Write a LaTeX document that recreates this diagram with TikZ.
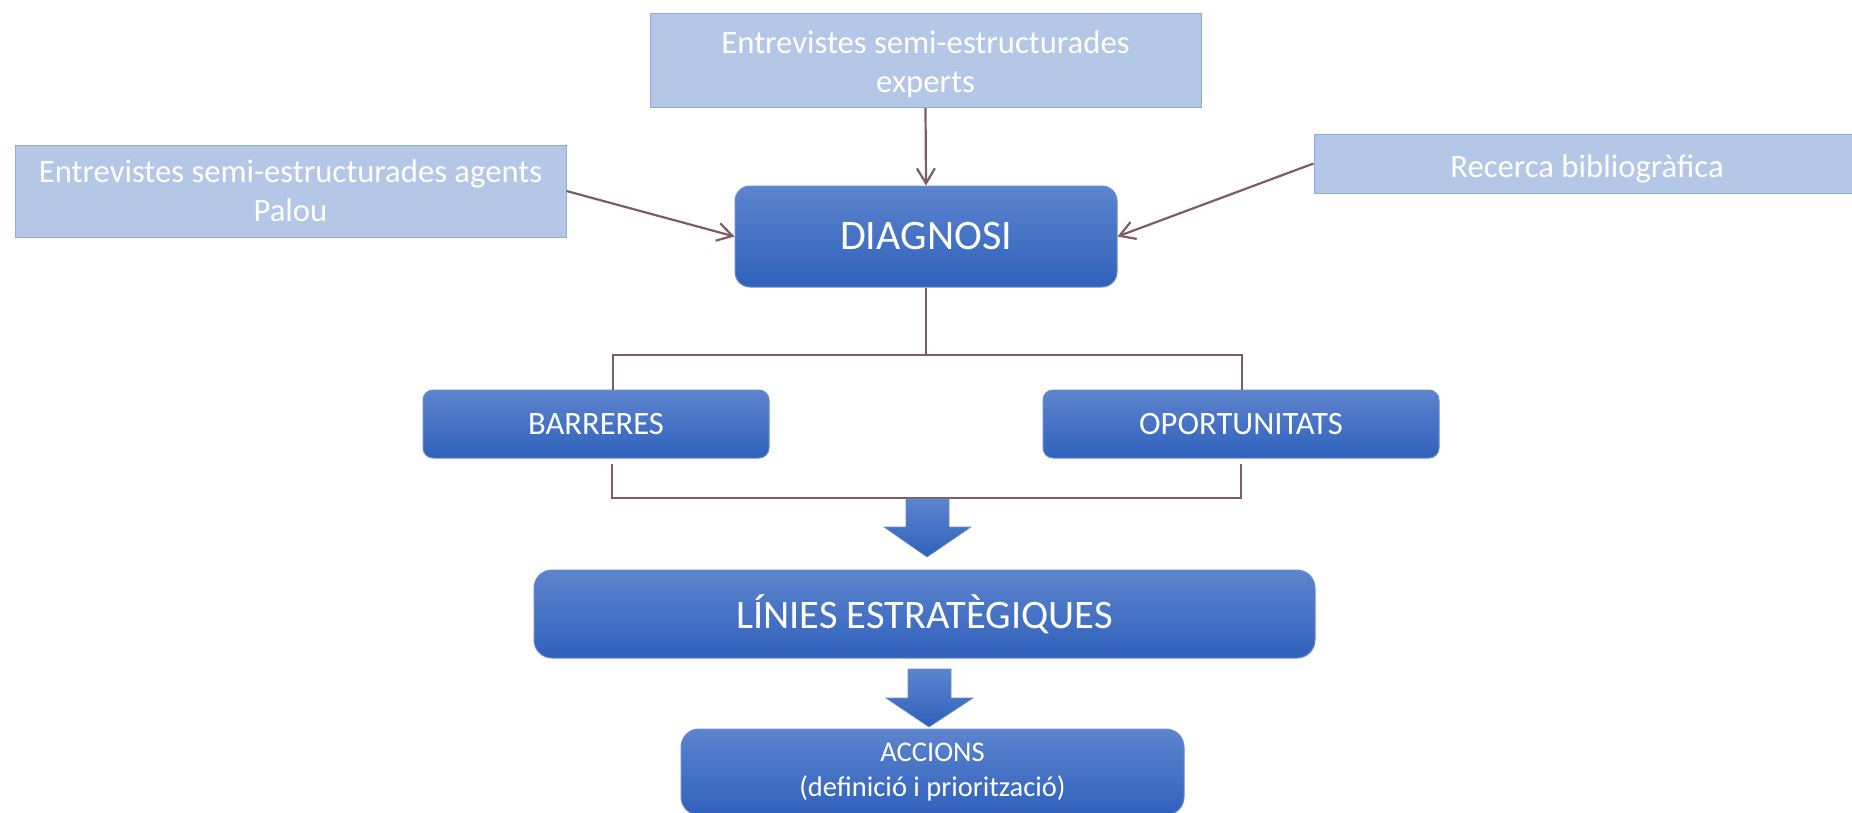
\documentclass[tikz,border=0pt]{standalone}
\usepackage{fontspec}
\setmainfont{Carlito}
\usetikzlibrary{arrows.meta,calc}
\definecolor{lightfill}{RGB}{180,199,231}
\definecolor{lightdraw}{RGB}{143,170,220}
\definecolor{bluetop}{RGB}{93,132,206}
\definecolor{bluebot}{RGB}{47,97,187}
\definecolor{blueedge}{RGB}{105,140,208}
\definecolor{conn}{RGB}{124,92,102}
\tikzset{
  lightbox/.style={draw=lightdraw, line width=1pt, fill=lightfill, text=white,
    align=center, inner sep=0pt, font=\fontsize{32.7}{39}\selectfont},
  bluebox/.style={draw=blueedge, line width=1pt, top color=bluetop, bottom color=bluebot,
    text=white, align=center, inner sep=0pt},
  connline/.style={draw=conn, line width=2.2pt},
  connarrow/.style={connline, -{Straight Barb[length=15pt,width=18pt,line width=2.2pt]}},
  blockarrow/.style={top color=bluetop, bottom color=bluebot, draw=blueedge, line width=0.6pt}
}
\begin{document}
\begin{tikzpicture}[x=1pt,y=-1pt]
\useasboundingbox (0,0) rectangle (1852,812);
% source boxes
\node[lightbox, minimum width=551pt, minimum height=94pt] (exp) at (925.5,60.5)
  {\rule{0pt}{31pt}Entrevistes semi-estructurades\\experts};
\node[lightbox, minimum width=551pt, minimum height=92pt] (agt) at (290.5,191)
  {Entrevistes semi-estructurades agents\\Palou};
\node[lightbox, minimum width=546pt, minimum height=59pt, text height=34pt, text depth=7pt] (rec) at (1587,163.5)
  {Recerca bibliogràfica};
% main boxes
\node[bluebox, rounded corners=15pt, minimum width=382pt, minimum height=101pt,
  font=\fontsize{42}{49}\selectfont] (diag) at (926,236.5) {DIAGNOSI};
\node[bluebox, rounded corners=10pt, minimum width=346pt, minimum height=68pt,
  font=\fontsize{32.6}{39}\selectfont] (bar) at (596,424) {BARRERES};
\node[bluebox, rounded corners=10pt, minimum width=396pt, minimum height=68pt,
  font=\fontsize{32.6}{39}\selectfont] (opo) at (1241,424) {OPORTUNITATS};
\node[bluebox, rounded corners=18pt, minimum width=781pt, minimum height=88pt,
  font=\fontsize{40.5}{48}\selectfont] (lin) at (924.5,614) {LÍNIES ESTRATÈGIQUES};
\node[bluebox, rounded corners=18pt, minimum width=503pt, minimum height=86pt,
  font=\fontsize{28.5}{35}\selectfont] (acc) at (932.5,772) {ACCIONS\\(definició i priorització)};
% connectors into DIAGNOSI
\draw[connarrow] (exp.south) -- (diag.north);
\draw[connarrow] (agt.east) -- (diag.west);
\draw[connarrow] (rec.west) -- (diag.east);
% upper bracket
\coordinate (bl) at (613,355);
\coordinate (br) at (1242,355);
\draw[connline] (diag.south) -- (diag.south |- bl);
\draw[connline] (bar.north -| bl) -- (bl) -- (br) -- (br |- opo.north);
% lower bracket
\coordinate (cl) at (612,498);
\coordinate (cr) at (1241,498);
\draw[connline] ([yshift=-5pt]bar.south -| cl) -- (cl) -- (cr) -- ([yshift=-5pt]opo.south -| cr);
% block arrows
\shade[blockarrow] (906,499) -- (949,499) -- (949,527) -- (971,527) -- (927,557)
  -- (884,527) -- (906,527) -- cycle;
\shade[blockarrow] (908,669) -- (951,669) -- (951,698) -- (973,698) -- (929,727)
  -- (886,698) -- (908,698) -- cycle;
\end{tikzpicture}
\end{document}
